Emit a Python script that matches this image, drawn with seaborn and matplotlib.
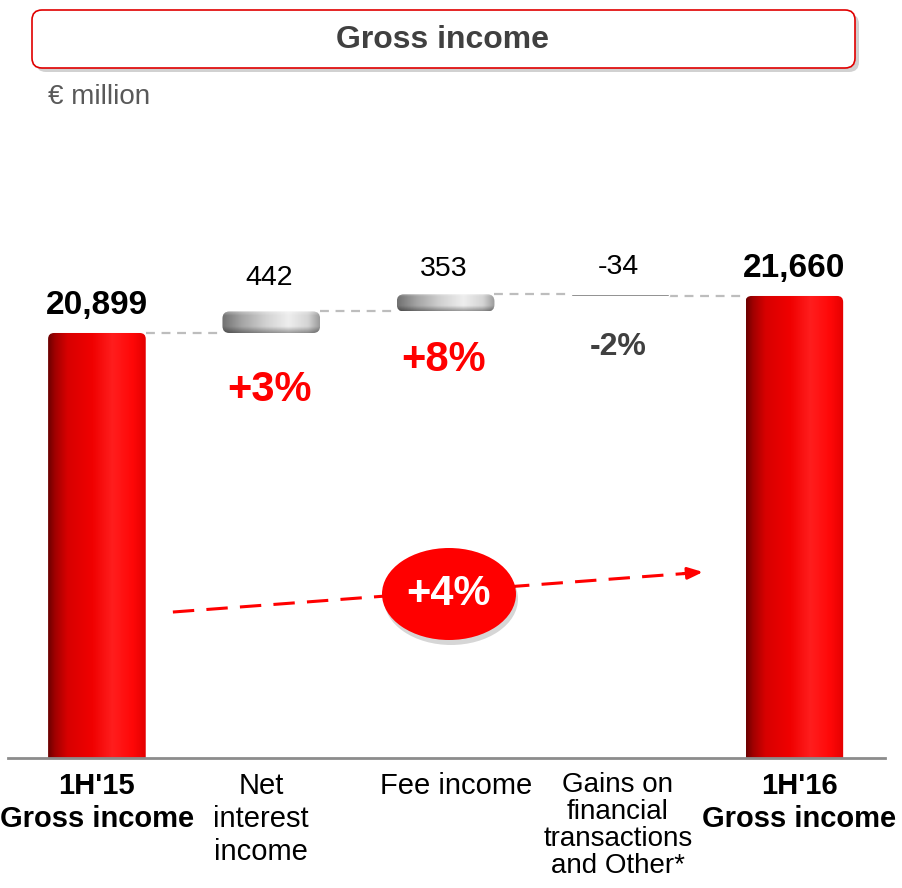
import numpy as np
import pandas as pd
import matplotlib
matplotlib.use("Agg")
import matplotlib.pyplot as plt
import seaborn as sns
from matplotlib.patches import FancyBboxPatch, Ellipse
from matplotlib.colors import LinearSegmentedColormap
from matplotlib.transforms import IdentityTransform, ScaledTranslation

# ---- data (€ million) ----
categories = ["1H'15\nGross income", "Net\ninterest\nincome", "Fee income",
              "Gains on\nfinancial\ntransactions\nand Other*", "1H'16\nGross income"]
totals = [20899, 21660]            # 1H'15, 1H'16 gross income
changes = [442, 353, -34]          # NII, fees, gains on financial transactions
change_pcts = ["+3%", "+8%", "-2%"]
total_growth = "+4%"

# ---- style ----
sns.set_style("white")
plt.rcParams["font.family"] = ["Liberation Sans", "DejaVu Sans"]

RED = "#ff0000"
DARK = "#404040"
W, H, DPI = 902, 888, 100

fig = plt.figure(figsize=(W / DPI, H / DPI), dpi=DPI)
ax = fig.add_axes([8 / W, 1 - 758 / H, 877 / W, 558 / H])

# totals as categorical bars
df = pd.DataFrame({"stage": [categories[0], categories[-1]], "value": totals})
sns.barplot(data=df, x="stage", y="value", order=categories, width=0.56,
            color=RED, saturation=1, ax=ax)

# floating bars for each contribution
levels = np.cumsum([totals[0]] + changes)
float_pos = np.arange(1, len(changes) + 1)
float_bars = ax.bar(float_pos, changes, bottom=levels[:-1], width=0.56, color="#bfbfbf")

XLIM, YLIM = (-0.51, 4.52), (12158, 23634)
ax.set_xlim(*XLIM)
ax.set_ylim(*YLIM)

# pixel scale of the data axes (for rounded corners)
p0 = ax.transData.transform((0, 20000))
p1 = ax.transData.transform((1, 21000))
px_x = p1[0] - p0[0]
px_y = (p1[1] - p0[1]) / 1000.0
aspect = px_x / px_y

red_cmap = LinearSegmentedColormap.from_list(
    "cyl_red", [(0, "#6a0000"), (0.07, "#a00000"), (0.2, "#d80000"),
                (0.45, "#f00000"), (0.66, "#ff1e1e"), (0.86, "#ff0808"), (1, "#e40000")])
grey_cmap = LinearSegmentedColormap.from_list(
    "cyl_grey", [(0, "#707070"), (0.2, "#a4a4a4"), (0.45, "#d2d2d2"),
                 (0.68, "#eeeeee"), (0.88, "#d4d4d4"), (1, "#9a9a9a")])
grad = np.linspace(0, 1, 256)[None, :]

# vertical rim shading for the discs: light top edge, darker bottom edge
t = np.linspace(0, 1, 64)  # 0 = bottom row (origin lower)
vshade = np.zeros((64, 1, 4))
vshade[:, 0, :3] = np.where(t[:, None] > 0.5, 1.0, 0.0)
vshade[:, 0, 3] = (np.where(t < 0.3, 0.35 * (1 - t / 0.3), 0.0)
                   + np.where(t > 0.8, 0.35 * (t - 0.8) / 0.2, 0.0))


def shade(patch, cmap, r_px, rim=False):
    x, y = patch.get_x(), patch.get_y()
    w, h = patch.get_width(), patch.get_height()
    if h < 0:
        y, h = y + h, -h
    patch.set_visible(False)
    clip = FancyBboxPatch((x, y), w, h,
                          boxstyle=f"round,pad=0,rounding_size={r_px / px_x}",
                          mutation_aspect=aspect, transform=ax.transData,
                          facecolor="none", edgecolor="none")
    ax.add_patch(clip)
    im = ax.imshow(grad, cmap=cmap, extent=[x, x + w, y, y + h],
                   aspect="auto", interpolation="bicubic", zorder=2)
    im.set_clip_path(clip)
    if rim:
        im2 = ax.imshow(vshade, extent=[x, x + w, y, y + h], origin="lower",
                        aspect="auto", interpolation="bilinear", zorder=2.1)
        im2.set_clip_path(clip)


for p in list(ax.patches):
    if p in float_bars.patches:
        continue
    if p.get_height() > 0 and p.get_facecolor()[0] > 0.9:
        shade(p, red_cmap, 6)

for p, v in zip(float_bars.patches, changes):
    if v > 0:
        shade(p, grey_cmap, 7, rim=True)
    else:
        p.set_facecolor("#505050")
        p.set_zorder(2)

ax.set_xlim(*XLIM)
ax.set_ylim(*YLIM)

# dashed connectors between bars
half = 0.28
for i, lvl in enumerate(levels):
    ax.plot([i + half, i + 1 - half], [lvl, lvl], color="#bdbdbd", lw=1.6,
            ls=(0, (4, 3)), zorder=1)

# total labels
for xpos, val in zip([0, 4], totals):
    ax.annotate(f"{val:,}", (xpos, val), xytext=(0, 12), textcoords="offset pixels",
                ha="center", va="bottom", fontsize=24, fontweight="bold", color="black")

# contribution labels and growth rates
value_pad = [20, 12, 14]
pct_pad = [57, 49, 51]
for i, (v, pct) in enumerate(zip(changes, change_pcts)):
    xpos = float_pos[i]
    top = max(levels[i], levels[i + 1])
    bot = min(levels[i], levels[i + 1])
    ax.annotate(f"{v:,}", (xpos, top), xytext=(-2, value_pad[i]), textcoords="offset pixels",
                ha="center", va="bottom", fontsize=20.5, color="black")
    ax.annotate(pct, (xpos, bot), xytext=(-2, -pct_pad[i]), textcoords="offset pixels",
                ha="center", va="center", fontweight="bold",
                fontsize=30 if v > 0 else 23, color=RED if v > 0 else DARK)

# overall growth arrow
ax.plot([0.188, 0.782], [0.2616, 0.3318], transform=ax.transAxes, color=RED,
        lw=2.2, ls=(0, (7, 4)), zorder=3)
ax.annotate("", xy=(0.7925, 0.3333), xytext=(0.770, 0.3305), xycoords="axes fraction",
            textcoords="axes fraction",
            arrowprops=dict(arrowstyle="-|>,head_length=0.9,head_width=0.35",
                            color=RED, lw=2.2, shrinkA=0, shrinkB=0), zorder=3)
fig.add_artist(Ellipse((451, 289), 134, 92, transform=IdentityTransform(),
                       facecolor="black", alpha=0.16, edgecolor="none", zorder=4))
fig.add_artist(Ellipse((449, 294), 134, 92, transform=IdentityTransform(),
                       facecolor=RED, edgecolor="none", zorder=5))
fig.text(449 / W, 1 - 594 / H, total_growth, ha="center", va="center",
         fontsize=30, fontweight="bold", color="white", zorder=6)

# axes styling
sns.despine(ax=ax, left=True, top=True, right=True)
ax.spines["bottom"].set_color("#8c8c8c")
ax.spines["bottom"].set_linewidth(2)
ax.set_yticks([])
ax.set_xlabel("")
ax.set_ylabel("")
ax.set_xticks(range(len(categories)))
ax.set_xticklabels(categories, fontsize=21)
ax.tick_params(axis="x", length=0, pad=10)
label_shift_px = [0, -10, 10, -2, 5]
label_spacing = [1.22, 1.22, 1.22, 1.06, 1.22]
label_size = [21, 21, 21, 20, 21]
for i, lab in enumerate(ax.get_xticklabels()):
    lab.set_color("black")
    lab.set_fontsize(label_size[i])
    lab.set_linespacing(label_spacing[i])
    lab.set_transform(lab.get_transform()
                      + ScaledTranslation(label_shift_px[i] / DPI, 0, fig.dpi_scale_trans))
    if i in (0, len(categories) - 1):
        lab.set_fontweight("bold")

# header box
fig.add_artist(FancyBboxPatch((36, 888 - 72), 823, 58, boxstyle="round,pad=0,rounding_size=10",
                              transform=IdentityTransform(), facecolor="#000000",
                              alpha=0.18, edgecolor="none", zorder=1))
fig.add_artist(FancyBboxPatch((32, 888 - 68), 823, 58, boxstyle="round,pad=0,rounding_size=10",
                              transform=IdentityTransform(), facecolor="white",
                              edgecolor="#e00000", lw=1.2, zorder=2))
fig.text(443 / W, 1 - 40 / H, "Gross income", ha="center", va="center",
         fontsize=23, fontweight="bold", color=DARK, zorder=3)
fig.text(48 / W, 1 - 97 / H, "€ million", ha="left", va="center",
         fontsize=20, color="#595959")

fig.savefig("out.png", dpi=DPI)
